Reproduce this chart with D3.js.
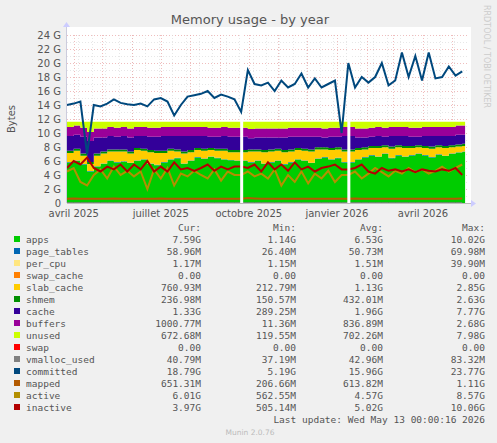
<!DOCTYPE html>
<html><head><meta charset="utf-8">
<script src="https://cdn.jsdelivr.net/npm/d3@7"></script>
<style>
body{margin:0;background:#f0f0f0;}
text{font-family:"DejaVu Sans",sans-serif;}
.mono{font-family:"DejaVu Sans Mono",monospace;font-size:9.5px;fill:#555;}
</style></head><body>
<svg id="chart" width="497" height="443"></svg>
<script>
// weekly samples from 2025-03-25, values in G (null = no data)
const apps = [5.8,6,5.5,4.5,5.2,5.6,6,5.8,5.9,5.7, 6,6.2,5.6,5.4,5.8,6.2,6.4,5.6,6,6.5, 6.3,6.6,6.4,6.2,6.1,6,null,5.8,6,5.6, 5.8,6,5.5,5.8,6.2,6,5.7,6.3,6.5,6.2, 6.4,5.8,null,6.2,6.5,6.8,6.6,7,6.4,6.8, 6.6,6.8,7,6.8,6.5,6.9,6.7,7,7.2,7.3]
const pageTables = [0.06,0.06,0.06,0.06,0.06,0.06,0.06,0.06,0.06,0.06, 0.06,0.06,0.06,0.06,0.06,0.06,0.06,0.06,0.06,0.06, 0.06,0.06,0.06,0.06,0.06,0.06,null,0.06,0.06,0.06, 0.06,0.06,0.06,0.06,0.06,0.06,0.06,0.06,0.06,0.06, 0.06,0.06,null,0.06,0.06,0.06,0.06,0.06,0.06,0.06, 0.06,0.06,0.06,0.06,0.06,0.06,0.06,0.06,0.06,0.06]
const slabCache = [1.3,1.4,1.2,1.0,1.5,1.4,1.3,1.5,1.4,1.3, 1.5,1.2,1.6,1.7,1.3,1.2,0.9,1.4,1.2,1.0, 1.1,0.9,1.0,1.2,1.1,1.2,null,1.5,1.3,1.6, 1.5,1.4,1.7,1.5,1.3,1.4,1.6,1.3,1.1,1.3, 1.2,1.5,null,1.3,1.1,1.0,1.2,0.9,1.3,1.1, 1.2,1.0,0.9,1.0,1.2,1.0,1.1,0.9,0.8,0.8]
const shmem = [0.3,0.3,0.3,0.3,0.3,0.3,0.3,0.3,0.3,0.3, 0.3,0.3,0.3,0.3,0.3,0.3,0.3,0.3,0.3,0.3, 0.3,0.3,0.3,0.3,0.3,0.3,null,0.3,0.3,0.3, 0.3,0.3,0.3,0.3,0.3,0.3,0.3,0.3,0.3,0.3, 0.3,0.3,null,0.3,0.3,0.3,0.3,0.3,0.3,0.3, 0.3,0.3,0.3,0.3,0.3,0.3,0.3,0.3,0.3,0.3]
const cache = [2.1,2.0,2.4,3.0,2.3,2.0,1.9,1.8,1.9,2.0, 1.7,1.8,1.9,2.0,2.1,1.8,1.9,2.2,2.0,1.7, 1.8,1.6,1.7,1.8,1.9,1.9,null,1.6,1.7,1.8, 1.7,1.6,1.8,1.8,1.6,1.7,1.8,1.5,1.4,1.6, 1.5,1.9,null,1.5,1.4,1.3,1.4,1.2,1.5,1.3, 1.4,1.3,1.2,1.4,1.5,1.3,1.4,1.3,1.4,1.3]
const buffers = [1.3,1.3,1.3,1.3,1.3,1.3,1.3,1.3,1.3,1.3, 1.3,1.3,1.3,1.3,1.3,1.3,1.3,1.3,1.3,1.3, 1.3,1.3,1.3,1.3,1.3,1.3,null,1.3,1.3,1.3, 1.3,1.3,1.3,1.3,1.3,1.3,1.3,1.3,1.3,1.3, 1.3,1.3,null,1.3,1.3,1.3,1.3,1.3,1.3,1.3, 1.3,1.3,1.3,1.3,1.3,1.3,1.3,1.3,1.3,1.3]
const unused = [0.74,0.54,0.84,1.44,0.94,0.94,0.74,0.84,0.74,0.94, 0.74,0.74,0.84,0.84,0.74,0.74,0.74,0.74,0.74,0.74, 0.74,0.84,0.84,0.74,0.84,0.84,null,1.04,0.94,0.94, 0.94,0.94,0.94,0.84,0.84,0.84,0.84,0.84,0.94,0.84, 0.84,0.74,null,0.94,0.94,0.84,0.74,0.84,0.74,0.74, 0.74,0.84,0.84,0.74,0.74,0.74,0.74,0.74,0.54,0.54]
const vmalloc = [0.04,0.04,0.04,0.04,0.04,0.04,0.04,0.04,0.04,0.04, 0.04,0.04,0.04,0.04,0.04,0.04,0.04,0.04,0.04,0.04, 0.04,0.04,0.04,0.04,0.04,0.04,null,0.04,0.04,0.04, 0.04,0.04,0.04,0.04,0.04,0.04,0.04,0.04,0.04,0.04, 0.04,0.04,null,0.04,0.04,0.04,0.04,0.04,0.04,0.04, 0.04,0.04,0.04,0.04,0.04,0.04,0.04,0.04,0.04,0.04]
const committed = [14,14.2,14.5,7,14,13.8,14.2,14.8,14.3,14.1, 14,14.2,13.8,14.8,15,14.5,12.5,14,15.2,15.4, 15.6,16,15,15.5,15.2,14.8,13,19,17,16.8, 17.2,16,17.5,16.5,17,18.5,16.5,17.8,16.5,17, 17.5,10,20,16.5,18,17.2,18,20,16.8,17.5, 21.5,18,21,17.5,21.5,17.8,18,19.5,18.2,18.8]
const mapped = [0.6,0.65,0.6,0.6,0.62,0.6,0.6,0.65,0.6,0.6, 0.62,0.6,0.6,0.6,0.65,0.6,0.6,0.6,0.62,0.6, 0.6,0.6,0.6,0.62,0.6,0.6,null,0.7,0.65,0.6, 0.62,0.6,0.6,0.6,0.62,0.6,0.6,0.6,0.6,0.62, 0.6,0.6,null,0.65,0.6,0.62,0.6,0.6,0.62,0.6, 0.6,0.6,0.62,0.6,0.6,0.6,0.6,0.62,0.6,0.65]
const active = [4.5,5,3,2.5,4,4.8,3.5,5.2,4,4.6, 3.8,4.5,2,4.8,3.5,5,2.5,4.2,3.8,4.6, 4,3.5,4.8,3.2,4.5,4,null,4.5,3.8,4.2, 3.5,4.8,2.5,4,3,4.5,2.8,4.2,3.5,4.6, 3,4,null,4.5,3.5,4.2,5,4.4,3.8,4.6, 4.2,5,4.4,4.8,4.2,4.6,5.2,4.5,5,5.5]
const inactive = [5,6,5.5,6.5,5,4.5,5.2,4.8,5.5,4.5, 5.5,4.8,6,4.5,5.2,4.5,5.8,4.8,5,4.6, 5,5.5,4.6,5.2,4.8,5.2,null,5,5.5,4.5, 5.8,4.8,5.5,4.6,5.8,4.8,5.2,4.5,5,5.2, 5.5,4.8,null,5,5.5,4.5,4.2,5,4.6,4.8, 4.5,4.8,4.4,4.8,4.6,4.5,4.8,4.6,5,4]

const legendRows = [
  ['apps','#00CC00','7.59G','1.14G','6.53G','10.02G'],
  ['page_tables','#0066B3','58.96M','26.40M','50.73M','69.98M'],
  ['per_cpu','#FFE680','1.17M','1.15M','1.51M','39.90M'],
  ['swap_cache','#FF8000','0.00','0.00','0.00','0.00'],
  ['slab_cache','#FFCC00','760.93M','212.79M','1.13G','2.85G'],
  ['shmem','#008F00','236.98M','150.57M','432.01M','2.63G'],
  ['cache','#330099','1.33G','289.25M','1.96G','7.77G'],
  ['buffers','#990099','1000.77M','11.36M','836.89M','2.68G'],
  ['unused','#CCFF00','672.68M','119.55M','702.26M','7.98G'],
  ['swap','#FF0000','0.00','0.00','0.00','0.00'],
  ['vmalloc_used','#808080','40.79M','37.19M','42.96M','83.32M'],
  ['committed','#00487D','18.79G','5.19G','15.96G','23.77G'],
  ['mapped','#B35A00','651.31M','206.66M','613.82M','1.11G'],
  ['active','#B38F00','6.01G','562.55M','4.57G','8.57G'],
  ['inactive','#B30000','3.97G','505.14M','5.02G','10.06G']
]

const svg = d3.select('#chart')
const pL = 67, pR = 467, pT = 35, pB = 203

const start = new Date(2025, 2, 25)
const end = new Date(2026, 4, 17)
const dates = committed.map((d, i) => d3.timeDay.offset(start, i * 7))
const x = d3.scaleTime().domain([start, end]).range([pL, pR])
const y = d3.scaleLinear().domain([0, 24]).range([pB, pT])

svg.append('rect').attr('x', pL).attr('y', pT - 8).attr('width', pR - pL + 4).attr('height', pB - pT + 8).attr('fill', '#fff')

// grid
for (let g = 1; g <= 24; g++) {
  svg.append('line').attr('x1', pL).attr('x2', pR).attr('y1', y(g) + 0.5).attr('y2', y(g) + 0.5)
    .attr('stroke', g % 2 ? '#ddd' : '#e8a0a0').attr('stroke-dasharray', '1,2').attr('stroke-width', 0.7)
}
d3.timeWeek.every(2).range(start, end).forEach(t => {
  svg.append('line').attr('x1', Math.round(x(t)) + 0.5).attr('x2', Math.round(x(t)) + 0.5).attr('y1', pT).attr('y2', pB)
    .attr('stroke', '#ddd').attr('stroke-dasharray', '1,2').attr('stroke-width', 0.7)
})
d3.timeMonth.range(new Date(2025, 3, 1), end).forEach(t => {
  svg.append('line').attr('x1', Math.round(x(t)) + 0.5).attr('x2', Math.round(x(t)) + 0.5).attr('y1', pT).attr('y2', pB)
    .attr('stroke', '#e8a0a0').attr('stroke-dasharray', '1,2').attr('stroke-width', 0.7)
})
const majorTicks = [new Date(2025, 3, 1), new Date(2025, 6, 1), new Date(2025, 9, 1), new Date(2026, 0, 1), new Date(2026, 3, 1)]

// stacked areas (a missing week keeps the previous value, then a thin gap is cut)
const fill = (arr, i) => arr[i] !== null ? arr[i] : arr[i - 1]
const stackSeries = [
  ['apps', apps, '#00CC00'], ['page_tables', pageTables, '#0066B3'], ['slab_cache', slabCache, '#FFCC00'],
  ['shmem', shmem, '#008F00'], ['cache', cache, '#330099'], ['buffers', buffers, '#990099'], ['unused', unused, '#CCFF00']
]
const rows = dates.map((d, i) => {
  const r = { date: d }
  stackSeries.forEach(s => { r[s[0]] = fill(s[1], i) })
  return r
})
rows.push(Object.assign({}, rows[rows.length - 1], { date: d3.timeDay.offset(dates[dates.length - 1], 3) }))
const stacked = d3.stack().keys(stackSeries.map(s => s[0]))(rows)
const area = d3.area().curve(d3.curveStepAfter)
  .x(d => x(d.data.date)).y0(d => y(d[0])).y1(d => y(d[1]))
svg.selectAll('path.layer').data(stacked).enter().append('path')
  .attr('class', 'layer').attr('d', area).attr('fill', (d, i) => stackSeries[i][2])

const lineSeries = [[vmalloc, '#808080', 1], [mapped, '#B35A00', 2], [active, '#B38F00', 2], [inactive, '#B30000', 2]]
const line = d3.line().x(d => x(d.date)).y(d => y(d.v))
lineSeries.forEach(s => {
  svg.append('path').attr('d', line(dates.map((d, i) => ({ date: d, v: fill(s[0], i) }))))
    .attr('fill', 'none').attr('stroke', s[1]).attr('stroke-width', s[2])
})
// data gaps
dates.forEach((d, i) => {
  if (apps[i] === null) {
    svg.append('rect').attr('x', x(d) - 1).attr('y', pT - 8).attr('width', 3).attr('height', pB - pT + 8).attr('fill', '#fff')
  }
})
svg.append('path').attr('d', line(dates.map((d, i) => ({ date: d, v: committed[i] }))))
  .attr('fill', 'none').attr('stroke', '#00487D').attr('stroke-width', 2)

// axes
svg.append('line').attr('x1', pL).attr('x2', pR + 4).attr('y1', pB + 0.5).attr('y2', pB + 0.5).attr('stroke', '#bbb')
svg.append('line').attr('x1', pL - 0.5).attr('x2', pL - 0.5).attr('y1', pT - 8).attr('y2', pB).attr('stroke', '#ccd')
svg.append('path').attr('d', `M${pR + 4},${pB - 3}L${pR + 9},${pB + 0.5}L${pR + 4},${pB + 4}Z`).attr('fill', '#ccf')
svg.append('path').attr('d', `M${pL - 4},${pT - 8}L${pL - 0.5},${pT - 13}L${pL + 3},${pT - 8}Z`).attr('fill', '#ccf')

d3.range(0, 25, 2).forEach(g => {
  svg.append('text').attr('x', pL - 6).attr('y', y(g) + 3.5).attr('text-anchor', 'end')
    .attr('font-size', 10).attr('fill', '#555').text(g === 0 ? '0' : g + ' G')
})
const frMonths = { 3: 'avril', 6: 'juillet', 9: 'octobre', 0: 'janvier' }
majorTicks.forEach(t => {
  svg.append('text').attr('x', x(t)).attr('y', pB + 14).attr('text-anchor', 'middle')
    .attr('font-size', 10).attr('fill', '#555').text(frMonths[t.getMonth()] + ' ' + t.getFullYear())
})

svg.append('text').attr('x', 250).attr('y', 24).attr('text-anchor', 'middle').attr('font-size', 13).attr('fill', '#555').text('Memory usage - by year')
svg.append('text').attr('transform', 'translate(15,119) rotate(-90)').attr('text-anchor', 'middle').attr('font-size', 10).attr('fill', '#555').text('Bytes')
svg.append('text').attr('transform', 'translate(484,5) rotate(90)').attr('font-size', 8).attr('fill', '#ccc').text('RRDTOOL / TOBI OETIKER')

// legend
const cols = [201, 296, 383, 485]
;['Cur:', 'Min:', 'Avg:', 'Max:'].forEach((h, i) => {
  svg.append('text').attr('class', 'mono').attr('x', cols[i]).attr('y', 231).attr('text-anchor', 'end').text(h)
})
legendRows.forEach((r, i) => {
  const yy = 243 + i * 12
  svg.append('rect').attr('x', 14).attr('y', yy - 7).attr('width', 6).attr('height', 6).attr('fill', r[1])
  svg.append('text').attr('class', 'mono').attr('x', 26).attr('y', yy).text(r[0])
  for (let c = 0; c < 4; c++) {
    svg.append('text').attr('class', 'mono').attr('x', cols[c]).attr('y', yy).attr('text-anchor', 'end').text(r[c + 2])
  }
})
svg.append('text').attr('class', 'mono').attr('x', 485).attr('y', 423).attr('text-anchor', 'end').text('Last update: Wed May 13 00:00:16 2026')
svg.append('text').attr('x', 250).attr('y', 435).attr('text-anchor', 'middle').attr('font-size', 7.5).attr('fill', '#bbb').text('Munin 2.0.76')
</script>
</body></html>
